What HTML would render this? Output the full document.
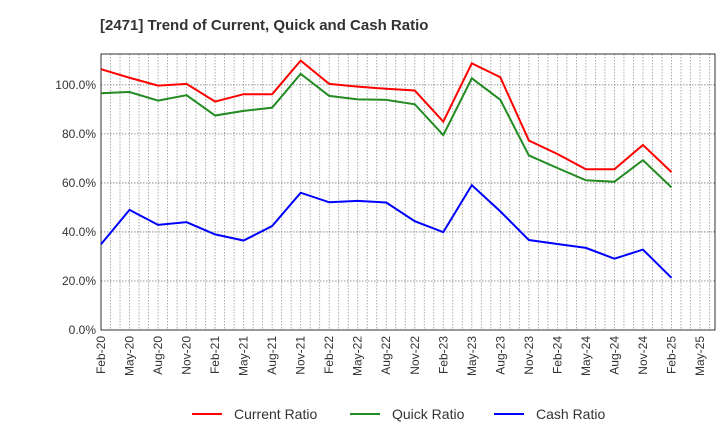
<!DOCTYPE html>
<html><head><meta charset="utf-8"><style>
body{margin:0;background:#fff;font-family:"Liberation Sans",sans-serif}
</style></head><body>
<svg id="c" width="720" height="440" xmlns="http://www.w3.org/2000/svg">
<text x="100" y="30" font-size="15" font-weight="bold" fill="#333">[2471]  Trend of Current, Quick and Cash Ratio</text>
<g id="grid"></g><g id="axes"></g><g id="series"></g>
<g>
<line x1="192" y1="414" x2="222" y2="414" stroke="#f00" stroke-width="2"/>
<text x="234" y="419" font-size="14" fill="#333">Current Ratio</text>
<line x1="350" y1="414" x2="380" y2="414" stroke="#228b22" stroke-width="2"/>
<text x="392" y="419" font-size="14" fill="#333">Quick Ratio</text>
<line x1="494" y1="414" x2="524" y2="414" stroke="#00f" stroke-width="2"/>
<text x="536" y="419" font-size="14" fill="#333">Cash Ratio</text>
</g>
</svg>
<script>
const tickLabels=["Feb-20","May-20","Aug-20","Nov-20","Feb-21","May-21","Aug-21","Nov-21","Feb-22","May-22","Aug-22","Nov-22","Feb-23","May-23","Aug-23","Nov-23","Feb-24","May-24","Aug-24","Nov-24","Feb-25","May-25"];
const yTicks=[0,20,40,60,80,100];
const currentRatio=[106.4,102.9,99.7,100.4,93.2,96.2,96.2,109.9,100.4,99.3,98.4,97.7,85.0,108.8,103.1,77.3,71.8,65.6,65.6,75.5,64.4];
const quickRatio=[96.6,97.1,93.6,95.8,87.5,89.4,90.7,104.5,95.5,94.1,93.9,92.1,79.5,102.7,93.9,71.2,66.1,61.1,60.5,69.3,58.2];
const cashRatio=[35.0,49.0,42.9,44.0,39.0,36.5,42.4,56.0,52.1,52.7,52.0,44.4,39.9,59.1,48.4,36.7,35.1,33.5,29.1,32.8,21.3];
const L=101,R=715,T=54,B=330,yMax=112.6,XL=700;
const step=(XL-L)/(tickLabels.length-1);
const xs=i=>L+i*step;
const ys=v=>B-v/yMax*(B-T);
const NS="http://www.w3.org/2000/svg";
function mk(t,a,p){const e=document.createElementNS(NS,t);for(const k in a)e.setAttribute(k,a[k]);p.appendChild(e);return e;}
const g=document.getElementById('grid'),ax=document.getElementById('axes'),s=document.getElementById('series');
for(let m=1;L+m*step/3<R-1;m++){const x=L+m*step/3;
const l=mk('line',{x1:x,x2:x,y1:T,y2:B,stroke:'#999','stroke-width':0.8,'stroke-dasharray':'1.5,1.5'},g);

}
yTicks.forEach(v=>{const y=ys(v);
const l=mk('line',{x1:L,x2:R,y1:y,y2:y,stroke:'#777','stroke-width':0.8,'stroke-dasharray':'1.5,1.5'},g);


const t=mk('text',{x:L-5,y:y+4,'text-anchor':'end','font-size':12,fill:'#333'},ax);t.textContent=v.toFixed(1)+'%';

});
tickLabels.forEach((lb,i)=>{const x=xs(i);
const t=mk('text',{transform:`translate(${x+4},${B+6}) rotate(-90)`,'text-anchor':'end','font-size':12,fill:'#333'},ax);t.textContent=lb;

});
const fr=mk('rect',{x:L,y:T,width:R-L,height:B-T,fill:'none',stroke:'#333','stroke-width':1},ax);


[[currentRatio,'#f00','current-ratio-line'],[quickRatio,'#228b22','quick-ratio-line'],[cashRatio,'#00f','cash-ratio-line']].forEach(([d,c,n])=>{
const p=mk('polyline',{points:d.map((v,i)=>xs(i)+','+ys(v)).join(' '),fill:'none',stroke:c,'stroke-width':2},s);

});
</script>
</body></html>
